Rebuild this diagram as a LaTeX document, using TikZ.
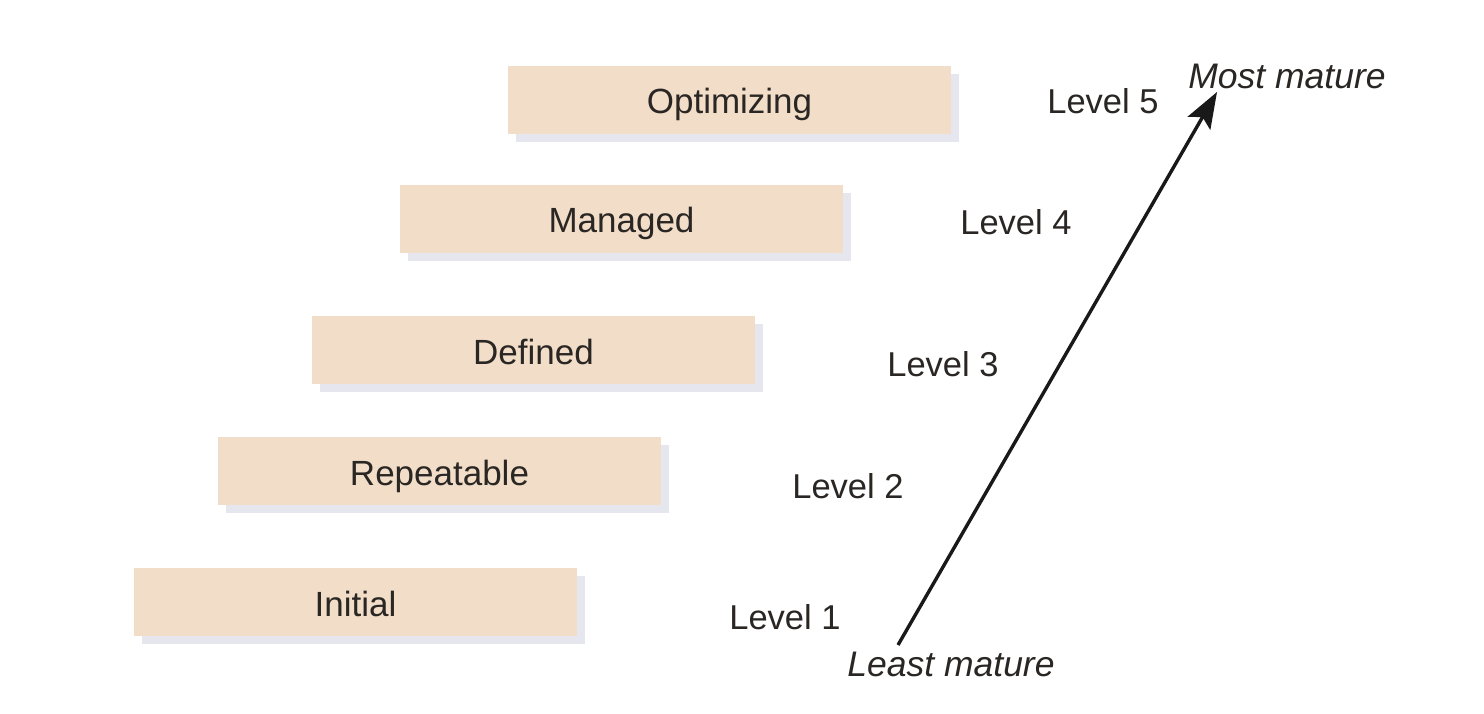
\documentclass[tikz,border=0pt]{standalone}
\usepackage{fontspec}
\setmainfont{Liberation Sans}
\usetikzlibrary{shadows,arrows.meta}
\definecolor{boxfill}{HTML}{F2DEC8}
\definecolor{shadowcol}{HTML}{E6E7EE}
\definecolor{textcol}{HTML}{2A2623}
\begin{document}
\begin{tikzpicture}[x=1pt,y=-1pt,
  level/.style={rectangle, fill=boxfill, minimum width=443pt, minimum height=68pt,
    inner sep=0pt, text height=28pt, text depth=0pt, text=textcol, font=\fontsize{35}{38}\selectfont,
    drop shadow={shadow xshift=8pt, shadow yshift=-8pt, fill=shadowcol, opacity=1}},
  lvl/.style={text=textcol, font=\fontsize{34.5}{38}\selectfont, inner sep=0pt},
  maturity/.style={text=textcol, font=\fontsize{35.5}{38}\selectfont\itshape, inner sep=0pt}]
\useasboundingbox (0,0) rectangle (1484,714);
\fill[white] (0,0) rectangle (1484,714);
\node[level] (opt) at (729.5,100) {Optimizing};
\node[level] (man) at (621.5,219) {Managed};
\node[level] (def) at (533.5,350) {Defined};
\node[level] (rep) at (439.5,471) {Repeatable};
\node[level] (ini) at (355.5,602) {Initial};
\node[lvl] (l5) at (1103,101) {Level 5};
\node[lvl] (l4) at (1016,222) {Level 4};
\node[lvl] (l3) at (943,364) {Level 3};
\node[lvl] (l2) at (848,486) {Level 2};
\node[lvl] (l1) at (785,617) {Level 1};
\node[maturity] (most) at (1287,76) {Most mature};
\node[maturity] (least) at (951,664) {Least mature};
\coordinate (start) at (898,645);
\coordinate (tip) at (1217,92);
\draw[line width=3.4pt, black!90, -{Stealth[length=36pt,width=26pt,inset=7pt]}] (start) -- (tip);
\end{tikzpicture}
\end{document}
